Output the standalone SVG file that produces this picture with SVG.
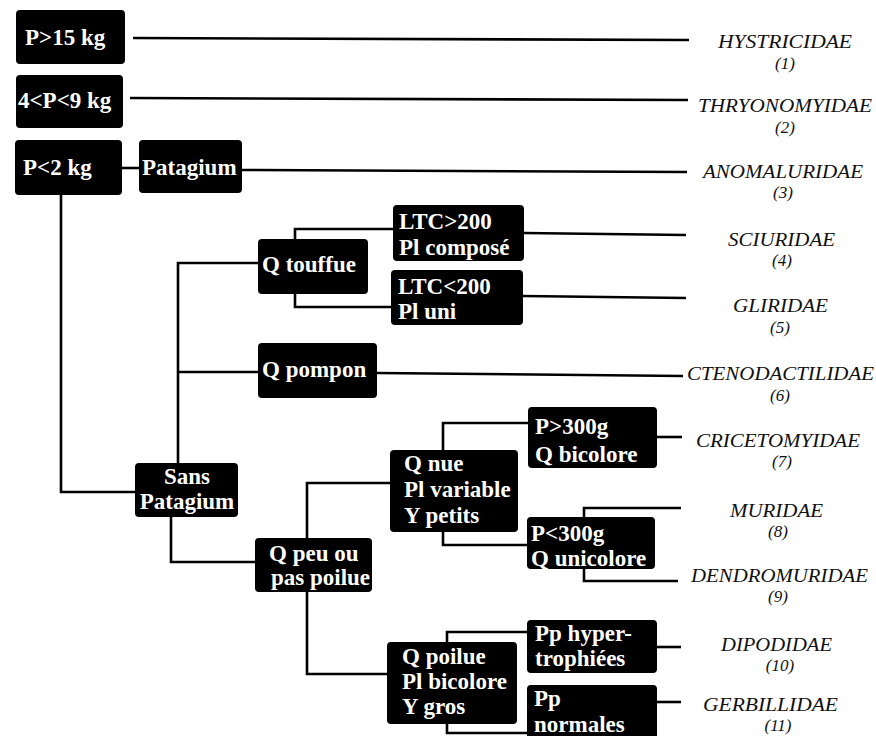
<svg xmlns="http://www.w3.org/2000/svg" width="876" height="736" viewBox="0 0 876 736">
<style>
.box{fill:#000}
.bt{font-family:"Liberation Serif","Times New Roman",serif;font-weight:bold;font-size:23px;fill:#fff}
.lab{font-family:"Liberation Serif","Times New Roman",serif;font-style:italic;font-size:18px;fill:#111}
.num{font-family:"Liberation Serif","Times New Roman",serif;font-style:italic;font-size:17px;fill:#111;text-anchor:middle}
.c{fill:none;stroke:#000;stroke-width:2.6}
</style>
<rect width="876" height="736" fill="#fff"/>
<g id="connectors">
<line class="c" x1="133" y1="38" x2="689" y2="40"/>
<line class="c" x1="130" y1="98" x2="688" y2="100"/>
<line class="c" x1="122" y1="168" x2="139" y2="168"/>
<line class="c" x1="242" y1="170" x2="687" y2="172"/>
<path class="c" d="M61,195 V492 H135"/>
<path class="c" d="M258,263 H178 V463"/>
<line class="c" x1="178" y1="372" x2="258" y2="372"/>
<line class="c" x1="377" y1="373" x2="683" y2="376"/>
<path class="c" d="M295,239 V229 H393"/>
<path class="c" d="M295,294 V307 H391"/>
<line class="c" x1="524" y1="233" x2="686" y2="235"/>
<line class="c" x1="523" y1="296" x2="686" y2="298"/>
<path class="c" d="M171,517 V562 H255"/>
<path class="c" d="M307,538 V483 H390"/>
<path class="c" d="M307,592 V674 H387"/>
<path class="c" d="M443,450 V423 H528"/>
<path class="c" d="M443,532 V545 H527"/>
<line class="c" x1="657" y1="437" x2="682" y2="437"/>
<path class="c" d="M584,517 V508 H681"/>
<path class="c" d="M584,569 V581 H678"/>
<path class="c" d="M447,642 V632 H527"/>
<path class="c" d="M447,724 V733 H527"/>
<line class="c" x1="657" y1="647" x2="681" y2="647"/>
<line class="c" x1="657" y1="702" x2="681" y2="702"/>
</g>
<g id="n1"><rect class="box" x="16" y="10" width="109" height="54" rx="4"/><text class="bt" x="25" y="45">P&gt;15 kg</text></g>
<g id="n2"><rect class="box" x="16" y="75" width="107" height="53" rx="4"/><text class="bt" x="18" y="108">4&lt;P&lt;9 kg</text></g>
<g id="n3"><rect class="box" x="15" y="140" width="107" height="55" rx="4"/><text class="bt" x="23" y="175">P&lt;2 kg</text></g>
<g id="n4"><rect class="box" x="139" y="140" width="103" height="53" rx="4"/><text class="bt" x="142" y="175">Patagium</text></g>
<g id="n5"><rect class="box" x="258" y="239" width="110" height="55" rx="4"/><text class="bt" x="262" y="272">Q touffue</text></g>
<g id="n6"><rect class="box" x="393" y="205" width="131" height="56" rx="4"/><text class="bt" x="399" y="229">LTC&gt;200</text><text class="bt" x="399" y="255">Pl composé</text></g>
<g id="n7"><rect class="box" x="391" y="270" width="132" height="55" rx="4"/><text class="bt" x="398" y="294">LTC&lt;200</text><text class="bt" x="398" y="319">Pl uni</text></g>
<g id="n8"><rect class="box" x="258" y="343" width="119" height="55" rx="4"/><text class="bt" x="262" y="377">Q pompon</text></g>
<g id="n9"><rect class="box" x="135" y="463" width="103" height="54" rx="4"/><text class="bt" x="187" y="484" text-anchor="middle">Sans</text><text class="bt" x="187" y="509" text-anchor="middle">Patagium</text></g>
<g id="n10"><rect class="box" x="255" y="538" width="117" height="54" rx="4"/><text class="bt" x="269" y="561">Q peu ou</text><text class="bt" x="271" y="585">pas poilue</text></g>
<g id="n11"><rect class="box" x="390" y="450" width="128" height="82" rx="4"/><text class="bt" x="404" y="471">Q nue</text><text class="bt" x="404" y="497">Pl variable</text><text class="bt" x="404" y="523">Y petits</text></g>
<g id="n12"><rect class="box" x="528" y="407" width="129" height="61" rx="4"/><text class="bt" x="535" y="434">P&gt;300g</text><text class="bt" x="535" y="462">Q bicolore</text></g>
<g id="n13"><rect class="box" x="527" y="517" width="128" height="52" rx="4"/><text class="bt" x="531" y="541">P&lt;300g</text><text class="bt" x="531" y="566">Q unicolore</text></g>
<g id="n14"><rect class="box" x="387" y="642" width="130" height="82" rx="4"/><text class="bt" x="402" y="664">Q poilue</text><text class="bt" x="402" y="689">Pl bicolore</text><text class="bt" x="402" y="714">Y gros</text></g>
<g id="n15"><rect class="box" x="527" y="620" width="130" height="53" rx="4"/><text class="bt" x="535" y="641">Pp hyper-</text><text class="bt" x="535" y="666">trophiées</text></g>
<g id="n16"><rect class="box" x="527" y="685" width="130" height="60" rx="4"/><text class="bt" x="534" y="706">Pp</text><text class="bt" x="534" y="732">normales</text></g>
<g id="labels">
<text class="lab" x="718" y="48" textLength="134" lengthAdjust="spacingAndGlyphs">HYSTRICIDAE</text><text class="num" x="785" y="69">(1)</text>
<text class="lab" x="698" y="112" textLength="174" lengthAdjust="spacingAndGlyphs">THRYONOMYIDAE</text><text class="num" x="785" y="133">(2)</text>
<text class="lab" x="703" y="178" textLength="160" lengthAdjust="spacingAndGlyphs">ANOMALURIDAE</text><text class="num" x="783" y="198">(3)</text>
<text class="lab" x="728" y="246" textLength="107" lengthAdjust="spacingAndGlyphs">SCIURIDAE</text><text class="num" x="782" y="266">(4)</text>
<text class="lab" x="733" y="312" textLength="95" lengthAdjust="spacingAndGlyphs">GLIRIDAE</text><text class="num" x="780" y="333">(5)</text>
<text class="lab" x="687" y="380" textLength="187" lengthAdjust="spacingAndGlyphs">CTENODACTILIDAE</text><text class="num" x="780" y="401">(6)</text>
<text class="lab" x="696" y="447" textLength="164" lengthAdjust="spacingAndGlyphs">CRICETOMYIDAE</text><text class="num" x="782" y="467">(7)</text>
<text class="lab" x="730" y="517" textLength="93" lengthAdjust="spacingAndGlyphs">MURIDAE</text><text class="num" x="778" y="537">(8)</text>
<text class="lab" x="691" y="582" textLength="177" lengthAdjust="spacingAndGlyphs">DENDROMURIDAE</text><text class="num" x="778" y="602">(9)</text>
<text class="lab" x="721" y="651" textLength="111" lengthAdjust="spacingAndGlyphs">DIPODIDAE</text><text class="num" x="780" y="671">(10)</text>
<text class="lab" x="703" y="711" textLength="135" lengthAdjust="spacingAndGlyphs">GERBILLIDAE</text><text class="num" x="778" y="731">(11)</text>
</g>
</svg>
